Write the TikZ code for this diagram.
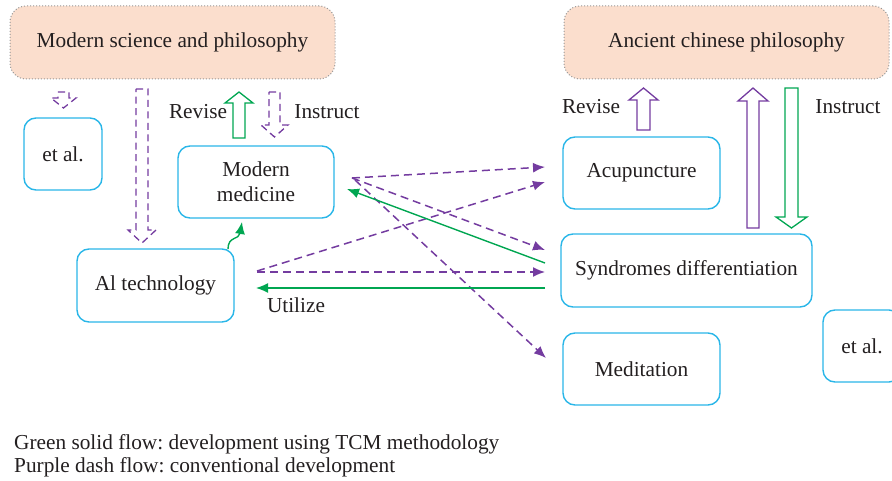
\documentclass[tikz,border=0pt]{standalone}
\usepackage{fontspec}
\setmainfont{Liberation Serif}
\usetikzlibrary{arrows.meta}
\frenchspacing
\definecolor{boxcyan}{RGB}{41,182,232}
\definecolor{peach}{RGB}{251,222,205}
\definecolor{dotgray}{RGB}{150,150,150}
\definecolor{flowpurple}{RGB}{116,60,160}
\definecolor{flowgreen}{RGB}{0,166,81}
\definecolor{txt}{RGB}{35,31,32}
\tikzset{
  every node/.style={text=txt, font=\fontsize{21.3}{25}\selectfont},
  topbox/.style={fill=peach, draw=dotgray, dotted, line width=1pt, rounded corners=16pt, minimum width=325pt, minimum height=73pt, inner sep=0pt},
  itembox/.style={draw=boxcyan, line width=1.4pt, rounded corners=12pt, inner sep=0pt, align=center},
  purpdash/.style={draw=flowpurple, line width=1.5pt, dash pattern=on 8pt off 5pt, -{Latex[length=12pt,width=10pt]}},
  greenflow/.style={draw=flowgreen, line width=1.4pt, -{Latex[length=12pt,width=10pt]}},
  blockpurp/.style={draw=flowpurple, line width=1.3pt, line join=miter},
  blockpurpdash/.style={draw=flowpurple, line width=1.3pt, dash pattern=on 7pt off 4.5pt},
  blockgreen/.style={draw=flowgreen, line width=1.3pt},
  lbl/.style={inner sep=0pt}
}
\begin{document}
\begin{tikzpicture}[x=1pt,y=-1pt]
\useasboundingbox (0,0) rectangle (892,481);
% top boxes
\node[topbox] (msp) at (172.5,42.5) {Modern science and philosophy};
\node[topbox] (acp) at (726.5,42.5) {Ancient chinese philosophy};
% item boxes
\node[itembox, minimum width=78pt, minimum height=72pt] (etl) at (63,154) {et al.};
\node[itembox, minimum width=156pt, minimum height=72pt] (mm) at (256,182) {Modern\\medicine};
\node[itembox, minimum width=157pt, minimum height=73pt] (ai) at (155.5,285.5) {Al technology};
\node[itembox, minimum width=157pt, minimum height=72pt] (acu) at (641.5,173) {Acupuncture};
\node[itembox, minimum width=251pt, minimum height=73pt] (syn) at (686.5,270.5) {Syndromes differentiation};
\node[itembox, minimum width=157pt, minimum height=72pt] (med) at (641.5,369) {Meditation};
\node[itembox, minimum width=78pt, minimum height=72pt] (etr) at (862,346) {et al.};
% block arrows
\draw[blockpurpdash] (58,92)--(69,92)--(69,98)--(76,98)--(63.5,108)--(51,98)--(58,98)--cycle;
\draw[blockpurpdash] (136,89)--(148,89)--(148,230)--(156,230)--(142,243)--(128,230)--(136,230)--cycle;
\draw[blockgreen] (233,138)--(245,138)--(245,103)--(253,103)--(239,92)--(225,103)--(233,103)--cycle;
\draw[blockpurpdash] (269,92)--(280,92)--(280,125)--(288,125)--(274.5,137)--(261,125)--(269,125)--cycle;
\draw[blockpurp] (637,130)--(650,130)--(650,100)--(658,100)--(643.5,88)--(629,100)--(637,100)--cycle;
\draw[blockpurp] (747,228)--(759,228)--(759,101)--(768,101)--(753,88)--(738,101)--(747,101)--cycle;
\draw[blockgreen] (785,88)--(798,88)--(798,217)--(807,217)--(791.5,228)--(776,217)--(785,217)--cycle;
% labels
\node[lbl] (rl) at (198,112) {Revise};
\node[lbl] (il) at (327,112) {Instruct};
\node[lbl] (rr) at (591,107) {Revise};
\node[lbl] (ir) at (848,107) {Instruct};
\node[lbl] (ut) at (296,305) {Utilize};
% connector coordinates
\coordinate (mmA) at (352,178);
\coordinate (mmB) at (355,180);
\coordinate (mmG) at (347,189);
\coordinate (acuA) at (545,167);
\coordinate (acuB) at (545,182);
\coordinate (synA) at (545,250);
\coordinate (synB) at (545,272);
\coordinate (synG1) at (545,263);
\coordinate (synG2) at (545,288);
\coordinate (medA) at (546,358);
\coordinate (aiA) at (257,271);
\coordinate (aiB) at (257,272);
\coordinate (aiG) at (256,288);
\coordinate (aiC) at (228,249);
\coordinate (mmC) at (242,222);
% flows
\draw[purpdash] (mmA) -- (acuA);
\draw[purpdash] (mmA) -- (synA);
\draw[purpdash] (mmB) -- (medA);
\draw[purpdash] (aiA) -- (acuB);
\draw[purpdash] (aiB) -- (synB);
\draw[greenflow] (synG1) -- (mmG);
\draw[greenflow] (synG2) -- (aiG);
\draw[greenflow] (aiC) .. controls (228,236) and (239,240) .. (mmC);
% legend
\node[lbl, anchor=base west] (lg1) at (14,449) {Green solid flow: development using TCM methodology};
\node[lbl, anchor=base west] (lg2) at (14,472) {Purple dash flow: conventional development};
\end{tikzpicture}
\end{document}
